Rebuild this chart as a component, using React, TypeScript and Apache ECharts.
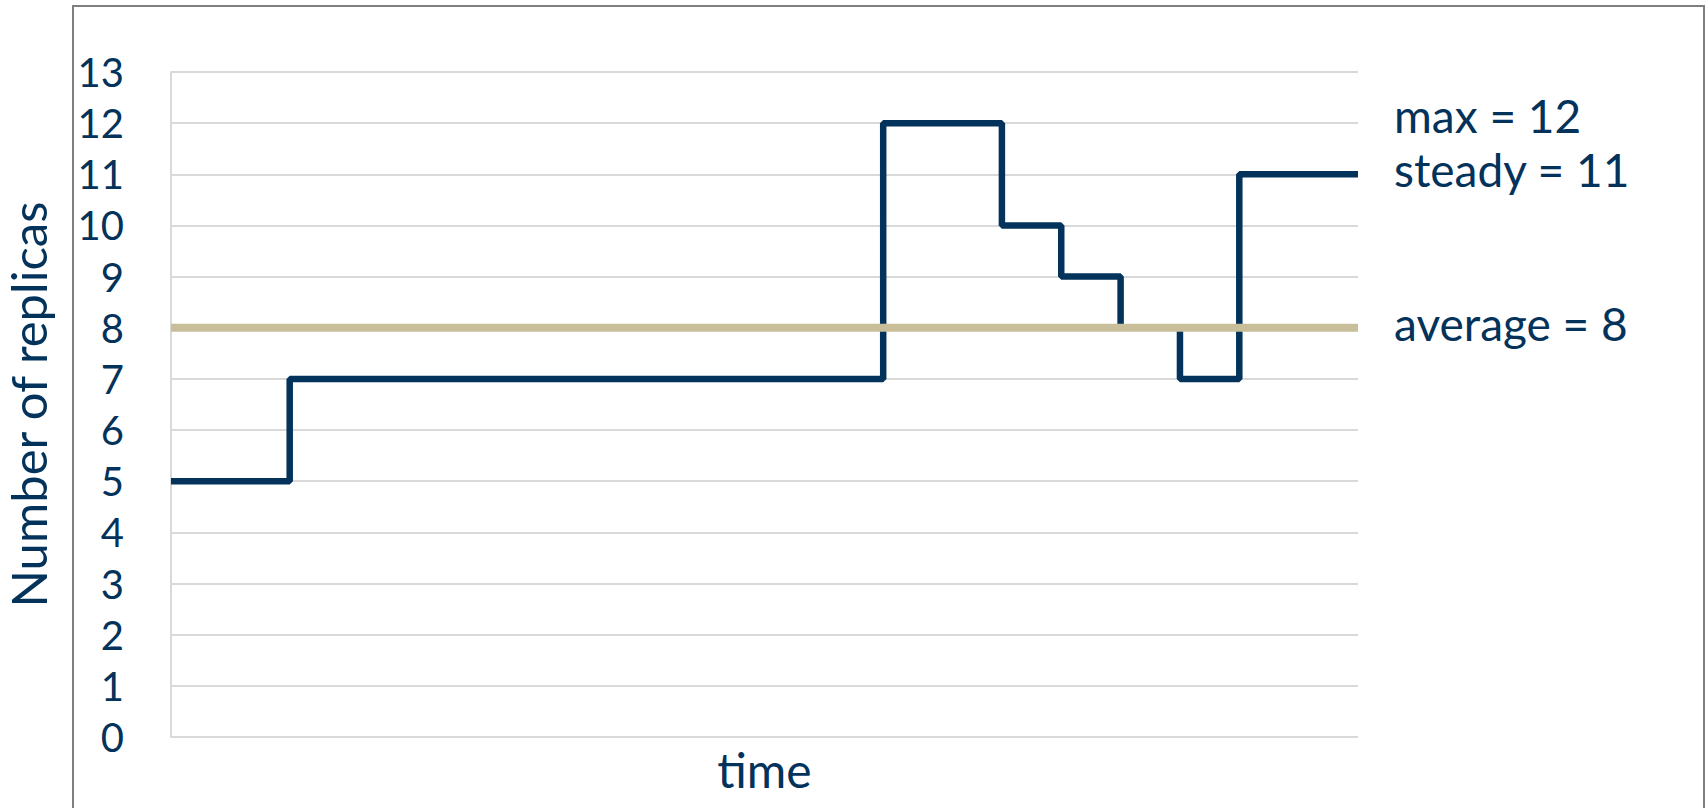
import React, { useEffect, useRef } from "react";
import * as echarts from "echarts";

// Replica count over time (step changes at each time mark)
const stepTimes = [0, 2, 12, 14, 15, 16, 17, 18, 20];
const replicaCounts = [5, 7, 12, 10, 9, 8, 7, 11, 11];

const averageReplicas = 8;
const maxReplicas = 12;
const steadyReplicas = 11;

const timeRange = [0, 20];
const yTicks = [0, 13];

const NAVY = "#03325a";
const BEIGE = "#c8bf9a";
const GRID = "#d9d9d9";
const FONT = "Lato, 'Open Sans', sans-serif";

export default function App() {
  const ref = useRef<HTMLDivElement>(null);

  useEffect(() => {
    if (!ref.current) return;
    const chart = echarts.init(ref.current, undefined, { renderer: "svg" });

    const stepData = stepTimes.map((t, i) => [t, replicaCounts[i]]);
    const avgData = [
      [timeRange[0], averageReplicas],
      [timeRange[1], averageReplicas],
    ];

    chart.setOption({
      animation: false,
      backgroundColor: "#ffffff",
      grid: {
        left: 171,
        top: 72,
        right: 348,
        bottom: 71,
        containLabel: false,
        outerBoundsMode: "none",
      },
      xAxis: {
        type: "value",
        min: timeRange[0],
        max: timeRange[1],
        name: "time",
        nameLocation: "middle",
        nameGap: 8,
        nameTextStyle: { color: NAVY, fontSize: 48, fontFamily: FONT },
        axisLine: { show: false },
        axisTick: { show: false },
        axisLabel: { show: false },
        splitLine: { show: false },
      },
      yAxis: {
        type: "value",
        min: yTicks[0],
        max: yTicks[1],
        interval: 1,
        name: "Number of replicas",
        nameLocation: "middle",
        nameGap: 118,
        nameTextStyle: {
          color: NAVY,
          fontSize: 49,
          fontFamily: FONT,
          lineHeight: 50,
        },
        axisLine: { show: true, lineStyle: { color: GRID, width: 2 } },
        axisTick: { show: false },
        axisLabel: { color: NAVY, fontSize: 40, fontFamily: FONT, margin: 47 },
        splitLine: { show: true, lineStyle: { color: GRID, width: 2 } },
      },
      series: [
        {
          name: "replicas",
          type: "line",
          step: "end",
          data: stepData,
          symbol: "none",
          lineStyle: { color: NAVY, width: 6.5 },
          z: 2,
        },
        {
          name: "average",
          type: "line",
          data: avgData,
          symbol: "none",
          lineStyle: { color: BEIGE, width: 8 },
          z: 3,
        },
      ],
      graphic: [
        {
          type: "rect",
          shape: { x: 73, y: 6, width: 1631, height: 820 },
          style: { fill: "none", stroke: "#7f7f7f", lineWidth: 2 },
          silent: true,
        },
        {
          type: "text",
          x: 1394,
          y: 115,
          style: {
            text: `max = ${maxReplicas}`,
            fill: NAVY,
            font: `46px ${FONT}`,
            verticalAlign: "middle",
          },
        },
        {
          type: "text",
          x: 1394,
          y: 169,
          style: {
            text: `steady = ${steadyReplicas}`,
            fill: NAVY,
            font: `46px ${FONT}`,
            verticalAlign: "middle",
          },
        },
        {
          type: "text",
          x: 1394,
          y: 323,
          style: {
            text: `average = ${averageReplicas}`,
            fill: NAVY,
            font: `46px ${FONT}`,
            verticalAlign: "middle",
          },
        },
      ],
    });

    return () => chart.dispose();
  }, []);

  return (
    <div
      ref={ref}
      style={{ position: "fixed", left: 0, top: 0, width: 1706, height: 808 }}
    />
  );
}
